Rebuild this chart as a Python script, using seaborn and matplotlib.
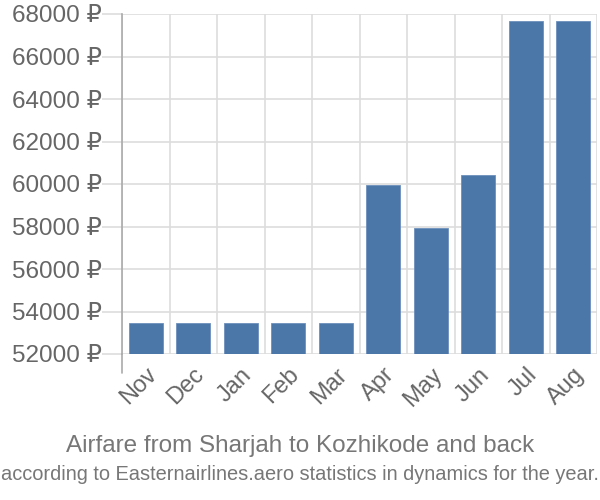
import matplotlib
matplotlib.use("Agg")
import matplotlib.pyplot as plt
import seaborn as sns
import pandas as pd
import numpy as np
from matplotlib.ticker import FuncFormatter, FixedLocator

months = ["Nov", "Dec", "Jan", "Feb", "Mar", "Apr", "May", "Jun", "Jul", "Aug"]
prices = [53450, 53450, 53450, 53450, 53450, 59950, 57930, 60420, 67670, 67670]
yticks = [52000, 54000, 56000, 58000, 60000, 62000, 64000, 66000, 68000]
title1 = "Airfare from Sharjah to Kozhikode and back"
title2 = "according to Easternairlines.aero statistics in dynamics for the year."

sns.set_theme(style="white")
plt.rcParams['font.family'] = ['Liberation Sans', 'DejaVu Sans']

df = pd.DataFrame({"month": months, "price": prices})

fig = plt.figure(figsize=(6, 5), dpi=100)
ax = fig.add_axes([122/600, 1-354/500, 475/600, 340/500])

base = 52000
sns.barplot(data=df, x="month", y=[p - base for p in prices], ax=ax, color="#4a76a8",
            saturation=1, width=0.72, bottom=base, edgecolor="#6d8fbb", linewidth=0.6, zorder=3)

ax.set_ylim(52000, 68000)
ax.set_xlim(-0.5, len(months) - 0.5)
ax.yaxis.set_major_locator(FixedLocator(yticks))
ax.yaxis.set_major_formatter(FuncFormatter(lambda v, p: f"{int(v)} ₽"))
ax.grid(axis="y", color="#dddddd", linewidth=1.2, zorder=0)
# vertical boundary lines
ax.xaxis.set_minor_locator(FixedLocator(np.arange(-0.5, len(months), 1.0)))
ax.grid(axis="x", which="minor", color="#dddddd", linewidth=1.2, zorder=0)
ax.tick_params(axis="x", which="minor", length=14, color="#dddddd", width=1.2, direction="out")
ax.tick_params(axis="x", which="major", length=0, labelsize=17, labelcolor="#666666", pad=7)
ax.tick_params(axis="y", which="major", length=14.5, color="#dddddd", width=1.2,
               labelsize=17.5, labelcolor="#666666", pad=-0.3, left=True)
for lab in ax.get_xticklabels():
    lab.set_rotation(45)
    lab.set_ha("right")
    lab.set_rotation_mode("anchor")

for s in ["top", "right", "bottom"]:
    ax.spines[s].set_visible(False)
ax.spines["left"].set_color("#aaaaaa")
ax.spines["left"].set_linewidth(1.2)
ax.spines["left"].set_bounds(52000, 68000)
ax.plot([-0.5, -0.5], [0, -19/340], transform=ax.get_xaxis_transform(), color="#aaaaaa",
        linewidth=1.2, clip_on=False)
ax.set_xlabel("")
ax.set_ylabel("")

fig.text(0.5, 1-446/500, title1, ha="center", va="center", fontsize=17.5, color="#777777")
fig.text(0.5, 1-474/500, title2, ha="center", va="center", fontsize=14.4, color="#777777")

fig.savefig("out.png", dpi=100)
